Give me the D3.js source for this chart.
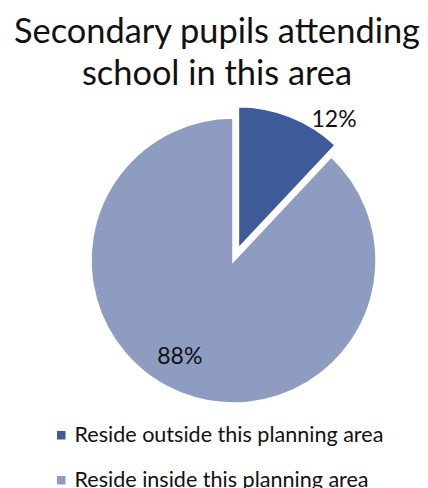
<!DOCTYPE html>
<html>
<head>
<meta charset="utf-8">
<script src="https://cdn.jsdelivr.net/npm/d3@7"></script>
<style>
  html, body { margin: 0; padding: 0; background: #ffffff; }
  svg { display: block; }
  text { font-family: Lato, "Open Sans", sans-serif; fill: #111111; }
</style>
</head>
<body>
<svg id="chart" width="428" height="488"></svg>
<script>
// Data
const titleLines = ["Secondary pupils attending", "school in this area"];
const categories = ["Reside outside this planning area", "Reside inside this planning area"];
const shares = [12, 88];
const colors = ["#3f5a98", "#8f9cc2"];

// Layout
const W = 428, H = 488;
const cx = 233.5, cy = 260.5, radius = 143;
const explode = [12, 0];              // pull-out distance per slice
const labelPolar = [                  // label position relative to slice origin
  { r: 162, deg: 36.4 },
  { r: 109, deg: 209.5 }
];

const svg = d3.select("#chart");

// Set a font size so a text spans a given width
function fitWidth(sel, target) {
  sel.attr("font-size", 100);
  const w = sel.node().getComputedTextLength();
  sel.attr("font-size", 100 * target / w);
}

// Title
const titleCenter = 217;
const t1 = svg.append("text").attr("x", titleCenter).attr("y", 43)
  .attr("text-anchor", "middle").text(titleLines[0]);
fitWidth(t1, 406);
svg.append("text").attr("x", titleCenter).attr("y", 85)
  .attr("text-anchor", "middle").attr("font-size", t1.attr("font-size"))
  .text(titleLines[1]);

// Pie
const pie = d3.pie().sort(null).value(d => d)(shares);
const arc = d3.arc().innerRadius(0).outerRadius(radius);
const rad = d => d * Math.PI / 180;

const g = svg.append("g").attr("transform", `translate(${cx},${cy})`);

const slices = g.selectAll("g.slice").data(pie).join("g")
  .attr("class", "slice")
  .attr("transform", (d, i) => {
    const mid = (d.startAngle + d.endAngle) / 2;
    return `translate(${explode[i] * Math.sin(mid)},${-explode[i] * Math.cos(mid)})`;
  });

slices.append("path")
  .attr("d", arc)
  .attr("fill", (d, i) => colors[i])
  .attr("stroke", "#ffffff")
  .attr("stroke-width", 2.5)
  .attr("stroke-linejoin", "miter");

// Percentage labels
slices.append("text")
  .attr("x", (d, i) => labelPolar[i].r * Math.sin(rad(labelPolar[i].deg)))
  .attr("y", (d, i) => -labelPolar[i].r * Math.cos(rad(labelPolar[i].deg)))
  .attr("text-anchor", "middle")
  .attr("dy", "0.36em")
  .attr("font-size", 23)
  .text(d => d.data + "%");

// Legend
const legend = svg.append("g");
const rows = legend.selectAll("g").data(categories).join("g")
  .attr("transform", (d, i) => `translate(57,${442 + i * 45})`);
rows.append("rect")
  .attr("x", 0).attr("y", -11).attr("width", 8.5).attr("height", 8.5)
  .attr("fill", (d, i) => colors[i]);
const legendTexts = rows.append("text")
  .attr("x", 17.5).attr("y", 0)
  .text(d => d);
fitWidth(d3.select(legendTexts.nodes()[0]), 309);
legendTexts.attr("font-size", d3.select(legendTexts.nodes()[0]).attr("font-size"));
</script>
</body>
</html>
